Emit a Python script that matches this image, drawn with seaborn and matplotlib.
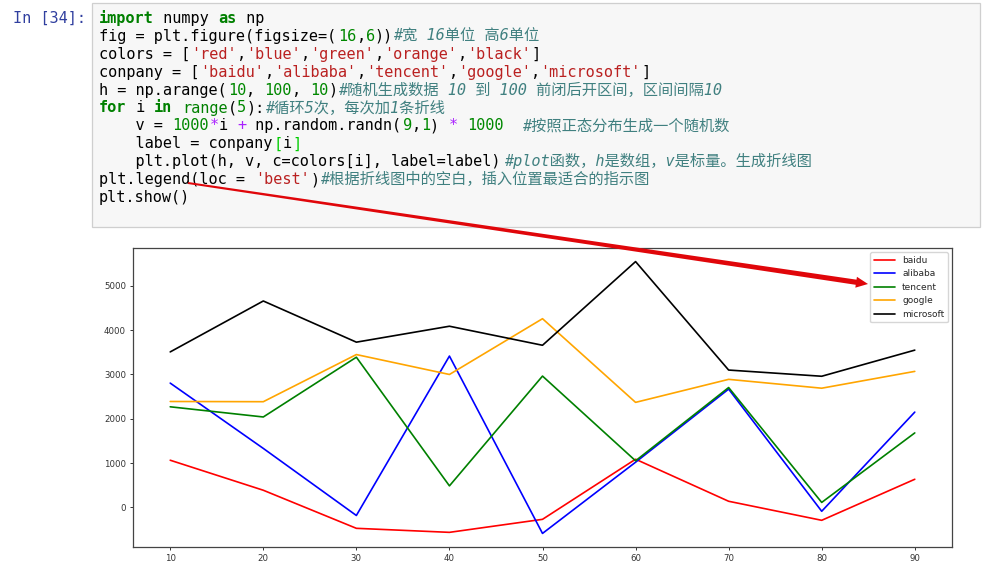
import numpy as np
import pandas as pd
import matplotlib
matplotlib.use("Agg")
import matplotlib.pyplot as plt
import seaborn as sns
from matplotlib.patches import Rectangle, Polygon

# ---------------- data ----------------
h = [10, 20, 30, 40, 50, 60, 70, 80, 90]
companies = ['baidu', 'alibaba', 'tencent', 'google', 'microsoft']
colors = ['red', 'blue', 'green', 'orange', 'black']
baidu = [1063, 385, -475, -566, -272, 1086, 136, -294, 633]
alibaba = [2805, 1330, -185, 3416, -590, 1018, 2670, -90, 2150]
tencent = [2270, 2040, 3390, 484, 2964, 1050, 2705, 110, 1680]
google = [2390, 2385, 3450, 3000, 4260, 2370, 2890, 2690, 3070]
microsoft = [3510, 4660, 3730, 4090, 3660, 5550, 3100, 2960, 3550]
y_ticks = [0, 1000, 2000, 3000, 4000, 5000]

prompt = "In [34]:"
# code cell: list of (text, token-kind)
code_lines = [
    [("import", "kw"), (" numpy ", "n"), ("as", "kw"), (" np", "n")],
    [("fig = plt.figure(figsize=(", "n"), ("16", "num"), (",", "n"), ("6", "num"), ("))", "n"),
     ("#宽 16单位 高6单位", "cm")],
    [("colors = [", "n"), ("'red'", "str"), (",", "n"), ("'blue'", "str"), (",", "n"),
     ("'green'", "str"), (",", "n"), ("'orange'", "str"), (",", "n"), ("'black'", "str"), ("]", "n")],
    [("conpany = [", "n"), ("'baidu'", "str"), (",", "n"), ("'alibaba'", "str"), (",", "n"),
     ("'tencent'", "str"), (",", "n"), ("'google'", "str"), (",", "n"), ("'microsoft'", "str"), ("]", "n")],
    [("h = np.arange(", "n"), ("10", "num"), (", ", "n"), ("100", "num"), (", ", "n"), ("10", "num"),
     (")", "n"), ("#随机生成数据 10 到 100 前闭后开区间，区间间隔10", "cm")],
    [("for", "kw"), (" i ", "n"), ("in", "kw"), (" ", "n"), ("range", "bi"), ("(", "n"), ("5", "num"),
     ("):", "n"), ("#循环5次，每次加1条折线", "cm")],
    [("    v = ", "n"), ("1000", "num"), ("*", "op"), ("i ", "n"), ("+", "op"), (" np.random.randn(", "n"),
     ("9", "num"), (",", "n"), ("1", "num"), (") ", "n"), ("*", "op"), (" ", "n"), ("1000", "num"),
     ("  ", "n"), ("#按照正态分布生成一个随机数", "cm")],
    [("    label = conpany", "n"), ("[", "br"), ("i", "n"), ("]", "br")],
    [("    plt.plot(h, v, c=colors[i], label=label)", "n"), ("#plot函数，h是数组，v是标量。生成折线图", "cm")],
    [("plt.legend(loc = ", "n"), ("'best'", "str"), (")", "n"),
     ("#根据折线图中的空白，插入位置最适合的指示图", "cm")],
    [("plt.show()", "n")],
]

# ---------------- styling ----------------
sns.set_style("ticks")
plt.rcParams['font.family'] = ['DejaVu Sans', 'Noto Sans CJK SC']

W, H = 985, 564
fig = plt.figure(figsize=(W / 100, H / 100), dpi=100)
fig.patch.set_facecolor('white')

# ---------------- chart ----------------
ax = fig.add_axes([133 / W, 1 - 547 / H, (952 - 133) / W, (547 - 248) / H])
series = [baidu, alibaba, tencent, google, microsoft]
df = pd.DataFrame({
    'h': np.tile(h, len(companies)),
    'v': np.concatenate(series),
    'company': np.repeat(companies, len(h)),
})
sns.lineplot(data=df, x='h', y='v', hue='company', hue_order=companies,
             palette=colors, linewidth=1.2, estimator=None, sort=False, ax=ax)
ax.set_xticks(h)
ax.set_yticks(y_ticks)
ax.set_xlabel('')
ax.set_ylabel('')
ax.margins(x=0.05, y=0.05)
ax.tick_params(labelsize=6.2, length=2.5, width=0.7, pad=2.5, colors='#333333')
for sp in ax.spines.values():
    sp.set_visible(True)
    sp.set_color('#444444')
    sp.set_linewidth(0.9)
handles, labels = ax.get_legend_handles_labels()
ax.legend(handles, labels, loc='upper right', fontsize=6.5, handlelength=2.3,
          borderaxespad=0.45, frameon=True, fancybox=True, edgecolor='#cccccc')

# ---------------- notebook overlay ----------------
ov = fig.add_axes([0, 0, 1, 1])
ov.set_xlim(0, W)
ov.set_ylim(H, 0)
ov.axis('off')
ov.patch.set_visible(False)

ov.add_patch(Rectangle((92, 3), 888, 224, facecolor='#f7f7f7', edgecolor='#cfcfcf', lw=0.9, zorder=1))

mono = 'DejaVu Sans Mono'
ov.text(86, 23, prompt, fontsize=11, family=mono, color='#303F9F', ha='right', va='baseline', zorder=3)

styles = {
    'n': dict(color='#000000'),
    'kw': dict(color='#008000', weight='bold'),
    'num': dict(color='#008800'),
    'str': dict(color='#BA2121'),
    'op': dict(color='#AA22FF'),
    'bi': dict(color='#008000'),
    'br': dict(color='#00cc00'),
    'cm': dict(color='#408080', style='italic'),
}
cw = 0.602 * 11 * 100 / 72
for i, line in enumerate(code_lines):
    col = 0
    yb = 18 + 17.9 * i + 5
    for txt, kind in line:
        fam = [mono, 'Noto Sans CJK SC'] if kind == 'cm' else mono
        ov.text(99 + col * cw, yb, txt, fontsize=11, family=fam, va='baseline', zorder=3, **styles[kind])
        col += len(txt)

# red arrow annotation
p0 = np.array([188.0, 183.0])
p1 = np.array([868.0, 284.0])
d = p1 - p0
u = d / np.linalg.norm(d)
nrm = np.array([-u[1], u[0]])
hl, hw, tw0, tw1 = 12, 5.5, 1.0, 2.6
neck = p1 - u * hl
pts = [p0 + nrm * tw0, neck + nrm * tw1, neck + nrm * hw, p1,
       neck - nrm * hw, neck - nrm * tw1, p0 - nrm * tw0]
ov.add_patch(Polygon(pts, closed=True, facecolor='#e0060a', edgecolor='none', zorder=10))

fig.savefig('out.png', dpi=100)
